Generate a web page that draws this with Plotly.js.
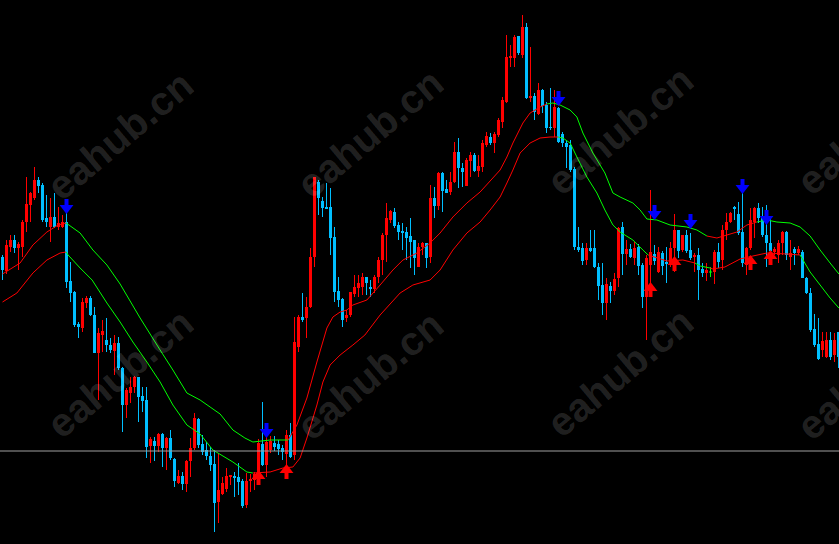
<!DOCTYPE html>
<html><head><meta charset="utf-8">
<script src="https://cdn.plot.ly/plotly-3.0.1.min.js"></script>
<style>html,body{margin:0;padding:0;background:#000;overflow:hidden}#chart{width:839px;height:544px}</style>
</head><body><div id="chart"></div>
<script>
// ---- candle data (price units) ----
const candleOpen = [
287,273,297,304,296,297,322,339,346,364,
359,326,317,327,317,317,322,263,252,220,
216,241,246,229,191,209,204,199,193,201,
176,139,151,157,167,148,144,98,103,98,
110,96,106,85,61,68,60,83,96,125,
100,94,88,80,42,50,55,67,68,67,
63,39,63,64,64,100,79,94,101,100,
96,90,109,89,197,227,226,237,287,362,
343,337,337,307,253,245,226,229,250,256,
257,267,257,255,267,284,309,324,332,319,
313,312,308,304,277,297,301,287,346,338,
371,355,352,362,392,376,358,383,389,373,
377,399,407,401,409,422,442,486,486,508,
489,517,446,448,430,454,439,417,416,436,
410,401,399,375,297,296,284,296,296,277,
259,241,258,253,266,317,290,295,286,297,
279,247,279,290,272,291,282,281,296,314,
294,309,294,287,289,275,271,272,272,292,
284,314,322,337,330,312,279,296,322,336,
326,309,301,292,289,301,312,287,295,291,
292,266,251,215,200,194,187,204,189,212];
const candleHigh = [
289,304,309,309,302,324,367,352,377,367,
361,349,346,351,337,329,334,282,253,222,
246,248,248,237,216,224,226,206,209,207,
177,156,167,168,167,157,157,107,107,111,
111,107,114,86,74,72,84,106,131,126,
109,102,97,94,91,67,76,69,72,81,
65,71,70,72,105,142,109,108,108,104,
99,114,121,227,229,251,247,296,367,364,
347,361,356,317,267,246,234,252,269,269,
271,267,264,269,287,311,341,334,336,322,
321,317,326,304,301,302,301,359,357,372,
372,364,372,402,406,381,386,392,391,389,
404,412,411,412,426,447,509,499,509,508,
529,521,497,451,461,455,442,456,454,437,
412,404,404,377,317,301,301,314,314,281,
281,266,262,271,317,322,304,300,302,300,
281,289,354,299,297,293,297,302,330,314,
309,314,311,291,296,281,281,277,294,301,
319,331,332,338,342,354,297,336,337,341,
337,339,326,297,304,313,313,304,297,298,
294,267,256,230,226,212,212,212,211,212];
const candleLow = [
264,270,292,291,274,287,312,322,344,351,
322,317,302,316,314,316,256,242,217,206,
212,236,228,191,144,192,192,191,169,174,
112,126,141,151,122,132,86,81,83,92,
77,74,84,57,60,54,52,67,94,96,
89,84,73,12,21,49,52,59,47,49,
36,36,52,54,59,78,67,91,93,89,
84,77,86,84,192,222,206,236,277,329,
327,335,289,242,237,217,222,227,247,247,
249,249,247,251,261,269,282,321,316,304,
294,284,276,269,277,289,276,281,326,334,
332,351,349,361,356,357,358,367,372,367,
372,397,399,391,407,416,441,477,477,489,
486,445,442,424,429,431,411,414,407,401,
397,376,372,294,292,279,279,292,276,244,
229,224,241,249,257,269,279,286,279,269,
236,204,247,279,271,269,261,277,272,286,
292,291,284,272,244,267,263,267,260,276,
274,304,321,324,309,277,269,294,306,321,
307,277,282,289,281,289,284,274,279,289,
266,250,212,197,184,187,186,184,182,176];
const candleClose = [
274,299,304,296,300,322,340,351,364,358,
324,322,327,317,321,322,262,251,219,217,
242,246,229,191,211,213,199,194,201,176,
139,154,157,167,147,143,97,105,98,110,
96,106,86,63,68,60,83,96,126,99,
92,88,79,41,54,61,68,69,66,62,
38,63,65,70,101,79,102,103,97,95,
92,109,87,202,227,224,237,287,367,346,
336,335,306,252,244,224,229,252,257,261,
267,261,255,267,284,309,326,333,318,312,
311,306,302,286,297,301,286,346,338,371,
353,351,362,392,376,372,384,389,373,378,
401,408,401,410,424,444,487,488,507,491,
517,446,448,432,454,438,416,416,437,402,
401,397,374,297,294,283,296,293,277,258,
241,260,253,265,316,290,295,287,296,278,
247,286,292,283,292,278,280,296,314,293,
309,293,286,289,274,271,274,272,292,282,
314,322,331,335,311,281,296,324,336,326,
309,301,293,295,301,312,289,291,291,295,
266,251,214,199,185,203,204,187,204,187];

// ---- indicator lines: bar index, value; trend runs ('u' = red, 'd' = green) ----
const upperIdx = [0,4.4,7.6,11.1,13.9,15.9,19.4,22.6,26.1,29.4,34.4,39.4,42.6,46.1,49.4,51.9,54.4,57.6,60.6,62.6,66.9,71.4,
73.6,76.1,78.6,81.1,82.6,84.4,86.1,87.6,91.1,94.4,97.6,100.1,103.6,106.9,109.4,112.6,116.1,119.4,124.4,126.1,127.6,130.1,131.9,134.4,136.1,
137.6,139.4,141.9,143.6,145.1,147.6,150.6,152.6,154.4,157.6,159.4,161.1,163.6,166.9,171.1,173.6,176.1,178.6,
181.1,183.6,186.1,188.6,191.1,193.6,196.9,199.4,201.9,204.4,206.9,209.1];
const upperVal = [270,281,299,312,319,321,311,294,279,260,226,194,174,151,144,137,130,114,106,102,104,104,
119,146,182,216,227,232,234,239,244,259,274,284,291,301,311,327,341,352,374,387,401,421,431,437,440,
441,439,434,427,411,391,371,351,347,341,334,325,324,319,317,314,308,306,
309,312,319,322,324,322,321,317,308,294,281,270];
const upperTrendRuns = [[6,'u'],[16,'d'],[25,'u'],[17,'d'],[5,'u'],[7,'d']];
const lowerIdx = [0,3.6,7.6,11.1,14.4,15.9,16.4,19.4,22.4,26.1,29.4,32.6,36.1,39.4,42.6,46.1,49.4,52.6,57.6,61.1,62.6,
66.9,70.1,72.6,74.4,76.1,78.6,80.1,81.9,84.4,87.6,90.6,94.4,99.4,102.6,106.9,109.4,112.6,116.1,119.4,121.9,124.4,126.1,127.6,129.4,131.9,134.4,136.9,138.9,
140.1,141.9,143.6,146.1,148.6,150.6,152.6,154.4,157.6,160.1,161.4,
166.1,170.1,173.1,174.4,176.9,177.6,180.6,184.4,187.6,191.1,196.1,199.4,
201.9,204.4,206.9,209.1];
const lowerVal = [242,251,271,284,291,292,289,276,264,241,222,202,182,162,139,119,110,94,82,72,71,
72,76,77,86,106,139,162,179,189,199,209,229,251,259,264,274,294,311,322,334,347,361,374,391,401,406,407,407,
406,401,387,367,351,334,319,312,304,294,289,
283,284,281,278,276,275,277,285,288,291,290,289,
272,259,246,236];
const lowerTrendRuns = [[6,'u'],[15,'d'],[28,'u'],[11,'d'],[3,'u'],[2,'d'],[7,'u'],[4,'d']];

// ---- signal arrows (tip price) ----
const sellIdx = [16,66,139,163,172,185,191];
const sellPrice = [331,107,439,325,316,351,320];
const buyIdx = [64,71,162,168,187,192];
const buyPrice = [73,79,261,287,288,293];
const levelPrice = 93;

function expand(runs){const o=[];runs.forEach(r=>{for(let k=0;k<r[0];k++)o.push(r[1]);});return o;}
const uTrend = expand(upperTrendRuns);
const lTrend = expand(lowerTrendRuns);

const RED='#ff0000', BLUE='#00bfff', LIME='#00ff00';

// ---- build candle traces ----
const groups = {up:{c:RED,bx:[],by:[],bb:[],wx:[],wy:[]},dn:{c:BLUE,bx:[],by:[],bb:[],wx:[],wy:[]},dj:{c:LIME,bx:[],by:[],bb:[],wx:[],wy:[]}};
for(let i=0;i<candleOpen.length;i++){
  const o=candleOpen[i], c=candleClose[i], h=candleHigh[i], l=candleLow[i];
  const g = c>o?groups.up:(c<o?groups.dn:groups.dj);
  let lo=Math.min(o,c), hi=Math.max(o,c);
  if(hi-lo<1){lo-=0.5;hi=lo+1;}
  g.bx.push(i); g.bb.push(lo); g.by.push(hi-lo);
  g.wx.push(i,i,null); g.wy.push(l,h,null);
}
const traces=[];
Object.values(groups).forEach(g=>{
  traces.push({type:'scatter',mode:'lines',x:g.wx,y:g.wy,line:{color:g.c,width:1},hoverinfo:'skip',showlegend:false});
});
Object.values(groups).forEach(g=>{
  traces.push({type:'bar',x:g.bx,y:g.by,base:g.bb,width:0.75,marker:{color:g.c,line:{width:0}},hoverinfo:'skip',showlegend:false});
});

// ---- indicator lines split by trend colour ----
function lineTraces(xs,ys,tr){
  const r={x:[],y:[]}, gr={x:[],y:[]};
  for(let k=0;k<xs.length-1;k++){
    const t = tr[k+1]==='u'?r:gr;
    t.x.push(xs[k],xs[k+1],null); t.y.push(ys[k],ys[k+1],null);
  }
  return [
    {type:'scatter',mode:'lines',x:r.x,y:r.y,line:{color:RED,width:1},hoverinfo:'skip',showlegend:false},
    {type:'scatter',mode:'lines',x:gr.x,y:gr.y,line:{color:LIME,width:1},hoverinfo:'skip',showlegend:false}
  ];
}
traces.push(...lineTraces(upperIdx,upperVal,uTrend));
traces.push(...lineTraces(lowerIdx,lowerVal,lTrend));

// ---- signal arrows: shaft + head ----
function arrowTraces(xs,ps,dir,color){
  // dir = -1 : arrow points down (tip at price), +1 : points up
  const sx=[],sy=[],hx=[],hy=[];
  xs.forEach((x,k)=>{
    const p=ps[k];
    sx.push(x,x,null); sy.push(p-dir*5, p-dir*14, null);
    hx.push(x); hy.push(p-dir*5);
  });
  return [
    {type:'scatter',mode:'lines',x:sx,y:sy,line:{color:color,width:4},hoverinfo:'skip',showlegend:false},
    {type:'scatter',mode:'markers',x:hx,y:hy,marker:{symbol:dir<0?'triangle-down':'triangle-up',size:12,color:color,line:{width:0}},hoverinfo:'skip',showlegend:false}
  ];
}
traces.push(...arrowTraces(sellIdx,sellPrice,-1,'#0000ff'));
traces.push(...arrowTraces(buyIdx,buyPrice,1,'#ff0000'));

// ---- watermark ----
const ann=[];
const W=839,H=544;
[[120,135],[370,133],[620,130],[870,130],[120,373],[370,375],[620,372],[870,375]].forEach(p=>{
  ann.push({xref:'paper',yref:'paper',x:p[0]/W,y:1-p[1]/H,xanchor:'center',yanchor:'middle',text:'eahub.cn',
    showarrow:false,textangle:-40,font:{family:'Liberation Sans, Arial, sans-serif',size:40,weight:'bold',color:'rgba(255,255,255,0.14)'}});
});

const layout={
  width:W,height:H,margin:{l:0,r:0,t:0,b:0,pad:0},
  paper_bgcolor:'#000',plot_bgcolor:'#000',
  barmode:'overlay',showlegend:false,hovermode:false,
  xaxis:{range:[-0.625,209.125],visible:false,fixedrange:true},
  yaxis:{range:[0,544],visible:false,fixedrange:true},
  shapes:[{type:'line',xref:'paper',x0:0,x1:1,yref:'y',y0:levelPrice,y1:levelPrice,line:{color:'#a0a0a0',width:1},layer:'above'}],
  annotations:ann
};
Plotly.newPlot('chart',traces,layout,{staticPlot:true,displayModeBar:false});
</script></body></html>
